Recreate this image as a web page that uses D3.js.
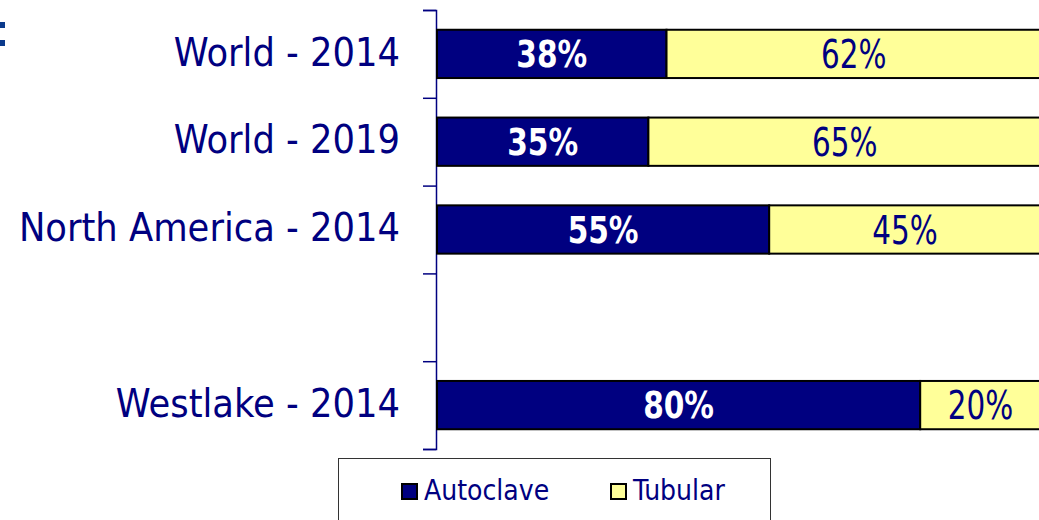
<!DOCTYPE html>
<html>
<head>
<meta charset="utf-8">
<script src="https://cdnjs.cloudflare.com/ajax/libs/d3/7.8.5/d3.min.js"></script>
<style>
  body { margin: 0; background: #fff; }
  svg { display: block; font-family: "DejaVu Sans Condensed", "DejaVu Sans", sans-serif; font-stretch: condensed; }
</style>
</head>
<body>
<script>
// data
const categories = ["World - 2014", "World - 2019", "North America - 2014", "", "Westlake - 2014"];
const autoclave = [38, 35, 55, null, 80];
const tubular = [62, 65, 45, null, 20];
const seriesNames = ["Autoclave", "Tubular"];

const width = 1039, height = 520;
const navy = "#000080", yellow = "#ffff99";

const svg = d3.select("body").append("svg")
  .attr("width", width)
  .attr("height", height);

// clipped remains of the title at the top left
svg.append("rect").attr("x", 0).attr("y", 22).attr("width", 5).attr("height", 6).attr("fill", "#0a3a8c");
svg.append("rect").attr("x", 0).attr("y", 40).attr("width", 5).attr("height", 6).attr("fill", "#0a3a8c");

const keys = categories.map((c, i) => "c" + i);

const y = d3.scaleBand()
  .domain(keys)
  .range([10, 449])
  .paddingInner(0.45)
  .paddingOuter(0.225);

const x = d3.scaleLinear()
  .domain([0, 100])
  .range([437, 1041]);

const rows = categories.map((c, i) => ({ key: keys[i], name: c, a: autoclave[i], t: tubular[i] }))
  .filter(d => d.a != null);

// axis with ticks on the band edges
const edge = d3.scaleLinear().domain([0, categories.length]).range(y.range());
const axis = d3.axisLeft(edge)
  .tickValues(d3.range(categories.length + 1))
  .tickSize(13)
  .tickFormat("");
const ax = svg.append("g")
  .attr("transform", "translate(436,0)")
  .call(axis);
ax.select(".domain").attr("stroke", navy).attr("stroke-width", 1.5);
ax.selectAll(".tick line").attr("stroke", navy).attr("stroke-width", 1.5);

// category labels
svg.append("g").selectAll("text")
  .data(categories.map((c, i) => ({ key: keys[i], name: c })))
  .enter()
  .append("text")
  .attr("x", 400)
  .attr("y", d => y(d.key) + y.bandwidth() / 2)
  .attr("dy", "0.3em")
  .attr("text-anchor", "end")
  .attr("font-size", 39.3)
  .attr("fill", navy)
  .text(d => d.name);

// bars
const bars = svg.append("g");
bars.selectAll("rect.auto")
  .data(rows)
  .enter()
  .append("rect")
  .attr("class", "auto")
  .attr("x", x(0))
  .attr("y", d => y(d.key))
  .attr("width", d => x(d.a) - x(0))
  .attr("height", y.bandwidth())
  .attr("fill", navy)
  .attr("stroke", "#000")
  .attr("stroke-width", 2);

bars.selectAll("rect.tub")
  .data(rows)
  .enter()
  .append("rect")
  .attr("class", "tub")
  .attr("x", d => x(d.a))
  .attr("y", d => y(d.key))
  .attr("width", d => x(d.a + d.t) - x(d.a))
  .attr("height", y.bandwidth())
  .attr("fill", yellow)
  .attr("stroke", "#000")
  .attr("stroke-width", 2);

// value labels
bars.selectAll("text.auto")
  .data(rows)
  .enter()
  .append("text")
  .attr("class", "auto")
  .attr("transform", d => "translate(" + x(d.a / 2) + "," + (y(d.key) + y.bandwidth() / 2) + ") scale(0.89,1)")
  .attr("dy", "0.36em")
  .attr("text-anchor", "middle")
  .attr("font-size", 37)
  .attr("font-weight", "bold")
  .attr("fill", "#fff")
  .text(d => d.a + "%");

bars.selectAll("text.tub")
  .data(rows)
  .enter()
  .append("text")
  .attr("class", "tub")
  .attr("transform", d => "translate(" + x(d.a + d.t / 2) + "," + (y(d.key) + y.bandwidth() / 2) + ") scale(0.84,1)")
  .attr("dy", "0.36em")
  .attr("text-anchor", "middle")
  .attr("font-size", 39)
  .attr("fill", navy)
  .text(d => d.t + "%");

// legend
const color = d3.scaleOrdinal().domain(seriesNames).range([navy, yellow]);
const legend = svg.append("g");
legend.append("rect")
  .attr("x", 338.5)
  .attr("y", 458.5)
  .attr("width", 432)
  .attr("height", 80)
  .attr("fill", "#fff")
  .attr("stroke", "#333")
  .attr("stroke-width", 1);

const item = legend.selectAll("g.item")
  .data(seriesNames)
  .enter()
  .append("g")
  .attr("class", "item")
  .attr("transform", (d, i) => "translate(" + (402 + i * 209) + ",484)");
item.append("rect")
  .attr("width", 15)
  .attr("height", 15)
  .attr("fill", d => color(d))
  .attr("stroke", "#000")
  .attr("stroke-width", 2);
item.append("text")
  .attr("x", 22)
  .attr("y", 16)
  .attr("font-size", 28)
  .attr("fill", navy)
  .text(d => d);
</script>
</body>
</html>
